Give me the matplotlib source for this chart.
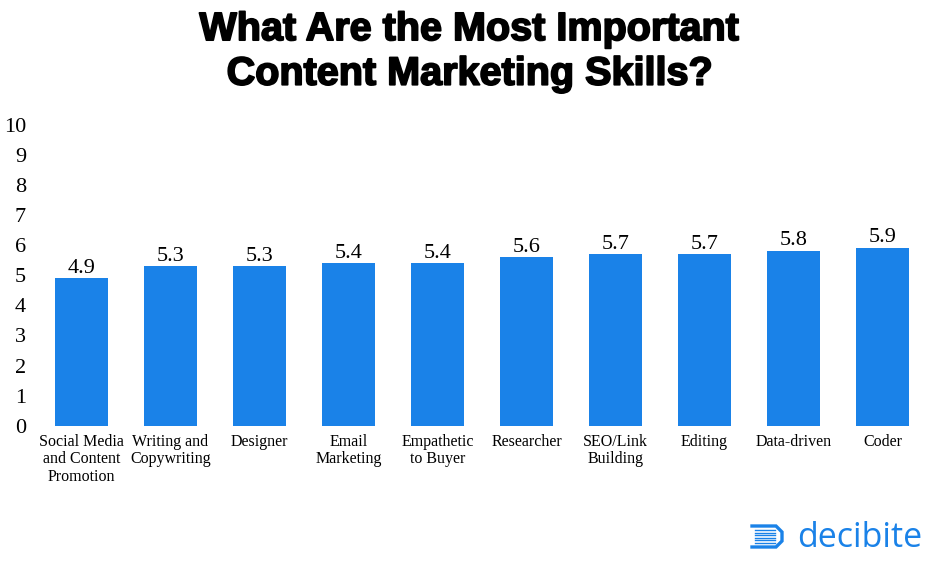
import matplotlib.pyplot as plt
import matplotlib.patheffects as pe
from matplotlib.lines import Line2D

# --- data ---
skills = ['Social Media\nand Content\nPromotion', 'Writing and\nCopywriting', 'Designer',
          'Email\nMarketing', 'Empathetic\nto Buyer', 'Researcher', 'SEO/Link\nBuilding',
          'Editing', 'Data-driven', 'Coder']
scores = [4.9, 5.3, 5.3, 5.4, 5.4, 5.6, 5.7, 5.7, 5.8, 5.9]
yticks = list(range(0, 11))

BLUE = '#1a82e8'
SERIF = 'Liberation Serif'

fig = plt.figure(figsize=(9.3, 5.62), dpi=100)
ax = fig.add_axes([0.0398, 0.2425, 0.957, 0.5357])

x = list(range(len(skills)))
bars = ax.bar(x, scores, width=0.6, color=BLUE)
for b, v in zip(bars, scores):
    ax.text(b.get_x() + b.get_width() / 2, v + 0.02, f'{v:.1f}', ha='center', va='bottom',
            fontsize=16, family=SERIF)

ax.set_xlim(-0.5, len(skills) - 0.5)
ax.set_ylim(0, 10)
ax.set_yticks(yticks)
ax.set_yticklabels([str(t) for t in yticks], family=SERIF, fontsize=16)
ax.set_xticks(x)
ax.set_xticklabels(skills, family=SERIF, fontsize=11.5, linespacing=1.12, va='top')
ax.tick_params(axis='both', length=0)
ax.tick_params(axis='y', pad=8)
ax.tick_params(axis='x', pad=6)
for s in ax.spines.values():
    s.set_visible(False)

# title
fig.text(0.505, 0.982, 'What Are the Most Important\nContent Marketing Skills?', ha='center', va='top',
         fontsize=28.5, fontweight='bold', family='Liberation Sans', linespacing=1.22,
         path_effects=[pe.withStroke(linewidth=1.3, foreground='black')])

# logo
fig.text(0.857, 0.027, 'decibite', ha='left', va='baseline', fontsize=24.5, color=BLUE,
         family='Open Sans')
W, H = 930.0, 562.0
def fx(px):
    return px / W
def fy(py):
    return 1 - py / H
outline_x = [752, 776, 782, 782, 776, 752]
outline_y = [526, 526, 532, 541, 547, 547]
fig.add_artist(Line2D([fx(p) for p in outline_x], [fy(p) for p in outline_y],
                      color=BLUE, lw=2.4, solid_joinstyle='miter'))
for i in range(6):
    yy = 530 + i * 2.6
    fig.add_artist(Line2D([fx(755), fx(775)], [fy(yy), fy(yy)], color=BLUE, lw=1.0))

fig.savefig('out.png', dpi=100)
